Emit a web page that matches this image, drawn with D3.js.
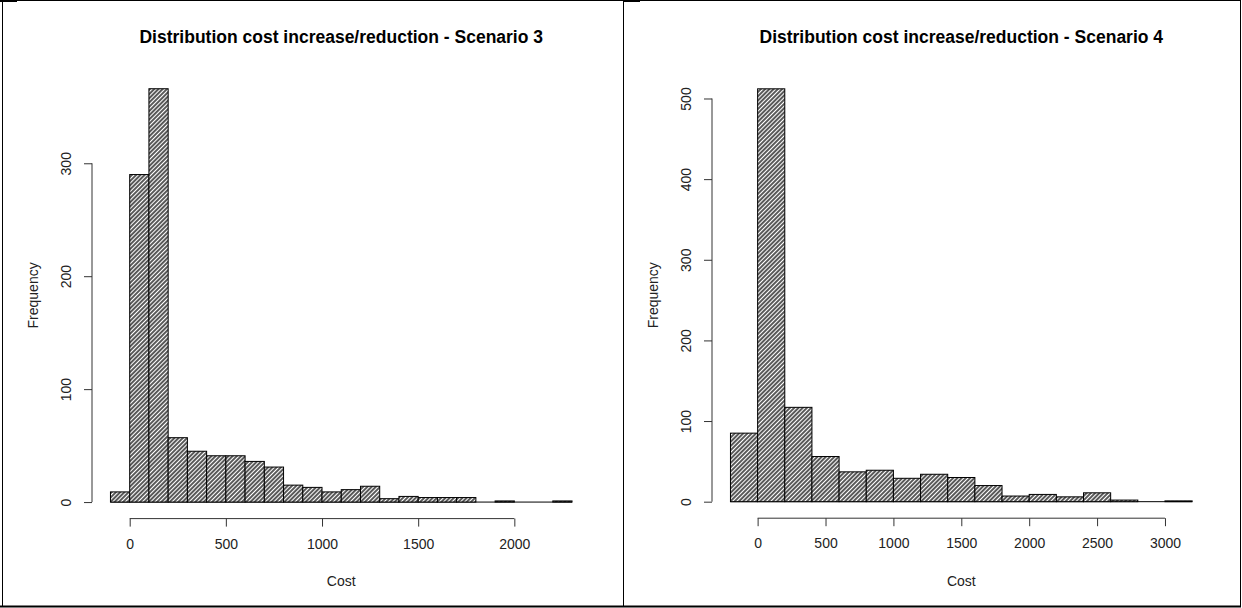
<!DOCTYPE html>
<html>
<head>
<meta charset="utf-8">
<script src="https://cdn.jsdelivr.net/npm/d3@7"></script>
<style>
  body { margin: 0; background: #fff; }
  svg { display: block; font-family: "Liberation Sans", Arial, sans-serif; }
</style>
</head>
<body>
<svg id="chart" width="1242" height="608"></svg>
<script>
// Scenario 3 histogram (bins of 100)
const breaks3 = [-100, 0, 100, 200, 300, 400, 500, 600, 700, 800, 900, 1000, 1100, 1200,
  1300, 1400, 1500, 1600, 1700, 1800, 1900, 2000, 2100, 2200, 2300];
const counts3 = [9, 290, 366, 57, 45, 41, 41, 36, 31, 15, 13, 9, 11, 14,
  3, 5, 4, 4, 4, 0, 1, 0, 0, 1];
const xTicks3 = [0, 500, 1000, 1500, 2000];
const yTicks3 = [0, 100, 200, 300];

// Scenario 4 histogram (bins of 200)
const breaks4 = [-200, 0, 200, 400, 600, 800, 1000, 1200, 1400, 1600, 1800, 2000,
  2200, 2400, 2600, 2800, 3000, 3200];
const counts4 = [85, 512, 117, 56, 37, 39, 29, 34, 30, 20, 7, 9, 6, 11, 2, 0, 1];
const xTicks4 = [0, 500, 1000, 1500, 2000, 2500, 3000];
const yTicks4 = [0, 100, 200, 300, 400, 500];

const titles = ["Distribution cost increase/reduction - Scenario 3",
  "Distribution cost increase/reduction - Scenario 4"];

let svg = d3.select("#chart");

// hatch fill like R's density/angle=45
let defs = svg.append("defs");
defs.append("pattern")
  .attr("id", "hatch")
  .attr("patternUnits", "userSpaceOnUse")
  .attr("width", 3)
  .attr("height", 3)
  .attr("patternTransform", "rotate(45)")
  .call(p => {
    p.append("rect").attr("width", 3).attr("height", 3).attr("fill", "#fff");
    p.append("line")
      .attr("x1", 1).attr("y1", 0).attr("x2", 1).attr("y2", 3)
      .attr("stroke", "#000").attr("stroke-width", 1.3);
  });

function drawHist(breaks, counts, xTicks, yTicks, title, box) {
  let g = svg.append("g");
  // R pads the axis limits by 4%
  let xlo = breaks[0], xhi = breaks[breaks.length - 1];
  let xpad = (xhi - xlo) * 0.04;
  let ymax = d3.max(counts);
  let ypad = ymax * 0.04;

  let xScale = d3.scaleLinear()
    .domain([xlo - xpad, xhi + xpad])
    .range([box.left, box.right]);
  let yScale = d3.scaleLinear()
    .domain([-ypad, ymax + ypad])
    .range([box.bottom, box.top]);

  let bins = counts.map((c, i) => ({ x0: breaks[i], x1: breaks[i + 1], n: c }));

  // baseline (zero-height bars show as a line in R)
  g.append("line")
    .attr("x1", xScale(xlo)).attr("x2", xScale(xhi))
    .attr("y1", yScale(0)).attr("y2", yScale(0))
    .style("stroke", "#000")
    .style("stroke-width", 1);

  g.selectAll(".bar")
    .data(bins.filter(d => d.n > 0))
    .enter()
    .append("rect")
      .attr("class", "bar")
      .attr("x", d => xScale(d.x0))
      .attr("y", d => yScale(d.n))
      .attr("width", d => xScale(d.x1) - xScale(d.x0))
      .attr("height", d => yScale(0) - yScale(d.n))
      .style("fill", "url(#hatch)")
      .style("stroke", "#000")
      .style("stroke-width", 1);

  // x axis, line only from first to last tick
  let xAxis = g.append("g")
    .attr("transform", "translate(0," + box.bottom + ")")
    .call(d3.axisBottom(xScale).tickValues(xTicks).tickFormat(d3.format("d"))
      .tickSize(8).tickSizeOuter(0).tickPadding(12));
  xAxis.select(".domain")
    .attr("d", "M" + xScale(xTicks[0]) + ",0H" + xScale(xTicks[xTicks.length - 1]));

  let yAxis = g.append("g")
    .attr("transform", "translate(" + box.left + ",0)")
    .call(d3.axisLeft(yScale).tickValues(yTicks).tickFormat(d3.format("d"))
      .tickSize(8).tickSizeOuter(0));
  yAxis.select(".domain")
    .attr("d", "M0," + yScale(yTicks[0]) + "V" + yScale(yTicks[yTicks.length - 1]));
  yAxis.selectAll(".tick text")
    .attr("transform", "rotate(-90)")
    .attr("x", 0)
    .attr("y", -21)
    .attr("dy", null)
    .style("text-anchor", "middle");

  [xAxis, yAxis].forEach(a => {
    a.attr("font-family", null).attr("font-size", null);
    a.selectAll("path, line").style("stroke", "#333");
    a.selectAll("text").style("font-size", "14px").style("fill", "#222");
  });

  let cx = (box.left + box.right) / 2;
  let cy = (box.top + box.bottom) / 2;
  g.append("text")
    .attr("x", cx)
    .attr("y", 43)
    .text(title)
    .style("font-weight", "bold")
    .style("font-size", "17.5px")
    .style("text-anchor", "middle");
  g.append("text")
    .attr("x", cx)
    .attr("y", 586)
    .text("Cost")
    .style("font-size", "14px")
    .style("fill", "#222")
    .style("text-anchor", "middle");
  g.append("text")
    .attr("transform", "translate(" + (box.left - 54) + "," + cy + ") rotate(-90)")
    .text("Frequency")
    .style("font-size", "14px")
    .style("fill", "#222")
    .style("text-anchor", "middle");
}

drawHist(breaks3, counts3, xTicks3, yTicks3, titles[0],
  { left: 92, right: 590.5, top: 72.2, bottom: 518.6 });
drawHist(breaks4, counts4, xTicks4, yTicks4, titles[1],
  { left: 712, right: 1210.6, top: 72.3, bottom: 518.2 });

// panel frames
let frame = svg.append("g").style("stroke", "#000");
frame.append("line").attr("x1", 0).attr("x2", 1241).attr("y1", 0.5).attr("y2", 0.5).style("stroke-width", 1);
frame.append("line").attr("x1", 0).attr("x2", 1241).attr("y1", 606.5).attr("y2", 606.5).style("stroke-width", 2);
frame.append("line").attr("x1", 2.5).attr("x2", 2.5).attr("y1", 0).attr("y2", 607).style("stroke-width", 1);
frame.append("line").attr("x1", 623.5).attr("x2", 623.5).attr("y1", 0).attr("y2", 607).style("stroke-width", 1);
frame.append("line").attr("x1", 1240.5).attr("x2", 1240.5).attr("y1", 0).attr("y2", 607).style("stroke-width", 1);
frame.append("line").attr("x1", 0).attr("x2", 17).attr("y1", 1).attr("y2", 1).style("stroke-width", 2);
frame.append("line").attr("x1", 623).attr("x2", 640).attr("y1", 1).attr("y2", 1).style("stroke-width", 2);
</script>
</body>
</html>
